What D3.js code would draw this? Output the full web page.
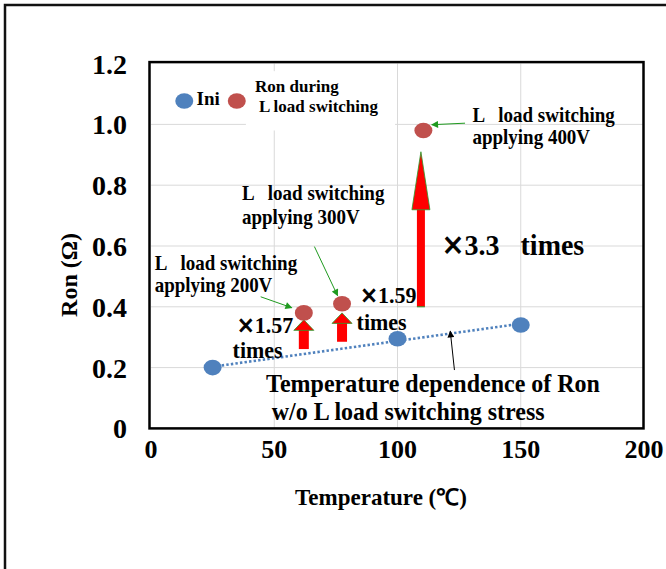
<!DOCTYPE html>
<html>
<head>
<meta charset="utf-8">
<script src="https://cdnjs.cloudflare.com/ajax/libs/d3/7.8.5/d3.min.js"></script>
<style>
  body { margin: 0; background: #fff; }
  text { font-family: "Liberation Serif", "Times New Roman", serif; font-weight: bold; fill: #000; white-space: pre; }
  .cjk { font-family: "Noto Sans CJK JP", sans-serif; font-size: 0.82em; stroke: #000; stroke-width: 0.9px; }
</style>
</head>
<body>
<script>
// data
var xTicks = [0, 50, 100, 150, 200];
var yTicks = [0, 0.2, 0.4, 0.6, 0.8, 1.0, 1.2];
var yTickLabels = ["0", "0.2", "0.4", "0.6", "0.8", "1.0", "1.2"];

var iniTemp = [25, 100, 150];
var iniRon = [0.2, 0.295, 0.34];

var swTemp = [62, 77.5, 110.5];
var swRon = [0.38, 0.41, 0.98];

// red "increase" arrows (temperature, from Ron, to Ron)
var arrowTemp = [62, 77.5, 109.5];
var arrowFrom = [0.261, 0.285, 0.40];
var arrowTo = [0.357, 0.38, 0.91];

var width = 666,
    height = 569;

var svg = d3.select("body").append("svg")
    .attr("width", width)
    .attr("height", height);

svg.append("rect")
    .attr("width", width).attr("height", height)
    .attr("fill", "#fff");

// outer frame (runs past the right/bottom edge)
svg.append("rect")
    .attr("x", 5).attr("y", 5)
    .attr("width", 700).attr("height", 600)
    .attr("fill", "none")
    .attr("stroke", "#111")
    .attr("stroke-width", 2.5);

var x = d3.scaleLinear().domain([0, 200]).range([151, 644]);
var y = d3.scaleLinear().domain([0, 1.2]).range([428.4, 63.6]);

// grid
svg.append("g").selectAll("line.v")
    .data(xTicks.slice(1, -1))
  .enter().append("line")
    .attr("x1", function(d) { return x(d); })
    .attr("x2", function(d) { return x(d); })
    .attr("y1", y(1.2)).attr("y2", y(0))
    .attr("stroke", "#d9d9d9").attr("stroke-width", 1);

svg.append("g").selectAll("line.h")
    .data(yTicks.slice(1, -1))
  .enter().append("line")
    .attr("y1", function(d) { return y(d); })
    .attr("y2", function(d) { return y(d); })
    .attr("x1", x(0)).attr("x2", x(200))
    .attr("stroke", "#d9d9d9").attr("stroke-width", 1);

// white box behind the legend text
svg.append("rect")
    .attr("x", x(38.5)).attr("y", y(1.175))
    .attr("width", x(99) - x(38.5)).attr("height", y(0.98) - y(1.175))
    .attr("fill", "#fff");

// plot frame
svg.append("rect")
    .attr("x", x(0) - 1.5).attr("y", y(1.2) - 1.5)
    .attr("width", x(200) - x(0) + 1).attr("height", y(0) - y(1.2) + 1.5)
    .attr("fill", "none")
    .attr("stroke", "#000")
    .attr("stroke-width", 2.5);

// axes labels
svg.append("g").selectAll("text")
    .data(yTicks)
  .enter().append("text")
    .attr("x", 127)
    .attr("y", function(d) { return y(d); })
    .attr("dy", "0.36em")
    .attr("text-anchor", "end")
    .style("font-size", "28px")
    .text(function(d, i) { return yTickLabels[i]; });

svg.append("g").selectAll("text")
    .data(xTicks)
  .enter().append("text")
    .attr("x", function(d) { return x(d); })
    .attr("y", 458)
    .attr("text-anchor", "middle")
    .style("font-size", "26px")
    .text(function(d) { return d; });

svg.append("text")
    .attr("x", 381).attr("y", 505)
    .attr("text-anchor", "middle")
    .style("font-size", "23px")
    .text("Temperature (\u2103)");

svg.append("text")
    .attr("transform", "translate(77,275) rotate(-90)")
    .attr("text-anchor", "middle")
    .style("font-size", "24px")
    .text("Ron (\u03a9)");

// trendline (linear fit of Ini points)
var mx = d3.mean(iniTemp), my = d3.mean(iniRon);
var sxy = d3.sum(iniTemp, function(t, i) { return (t - mx) * (iniRon[i] - my); });
var sxx = d3.sum(iniTemp, function(t) { return (t - mx) * (t - mx); });
var slope = sxy / sxx;
var ends = [d3.min(iniTemp), d3.max(iniTemp)];
svg.append("path")
    .datum(ends)
    .attr("d", d3.line()
        .x(function(d) { return x(d); })
        .y(function(d) { return y(my + slope * (d - mx)); }))
    .attr("fill", "none")
    .attr("stroke", "#4f81bd")
    .attr("stroke-width", 2.6)
    .attr("stroke-dasharray", "2.4 2.2");

// red arrows
var arrows = svg.append("g");
arrowTemp.forEach(function(t, i) {
  var cx = x(t), y0 = y(arrowFrom[i]), y1 = y(arrowTo[i]);
  var big = i === 2;
  var sw = big ? 4 : 5, hw = big ? 9 : 10, hl = big ? 58 : 10.5;
  arrows.append("rect")
      .attr("x", cx - sw).attr("y", y1 + hl - 0.5)
      .attr("width", sw * 2).attr("height", y0 - y1 - hl + 0.5)
      .attr("fill", "#ff0000");
  arrows.append("path")
      .attr("d", "M" + cx + "," + y1 + "L" + (cx + hw) + "," + (y1 + hl) +
                 "L" + (cx - hw) + "," + (y1 + hl) + "Z")
      .attr("fill", "#ff0000")
      .attr("stroke", "#2a9a2a")
      .attr("stroke-width", 0.8);
  if (big) {
    arrows.append("line")
        .attr("x1", cx - sw).attr("x2", cx + sw)
        .attr("y1", y0).attr("y2", y0)
        .attr("stroke", "#2a9a2a").attr("stroke-width", 1);
  }
});

// points
svg.append("g").selectAll("ellipse")
    .data(iniTemp)
  .enter().append("ellipse")
    .attr("cx", function(d) { return x(d); })
    .attr("cy", function(d, i) { return y(iniRon[i]); })
    .attr("rx", 9).attr("ry", 7.8)
    .attr("fill", "#4f81bd");

svg.append("g").selectAll("ellipse")
    .data(swTemp)
  .enter().append("ellipse")
    .attr("cx", function(d) { return x(d); })
    .attr("cy", function(d, i) { return y(swRon[i]); })
    .attr("rx", 9).attr("ry", 7.8)
    .attr("fill", "#c0504d");

// legend
svg.append("ellipse").attr("cx", x(13.5)).attr("cy", y(1.077))
    .attr("rx", 9).attr("ry", 7.8).attr("fill", "#4f81bd");
svg.append("text").attr("x", x(18.5)).attr("y", y(1.064))
    .style("font-size", "19px").text("Ini");
svg.append("ellipse").attr("cx", x(34.8)).attr("cy", y(1.077))
    .attr("rx", 9).attr("ry", 7.8).attr("fill", "#c0504d");
svg.append("text").attr("x", x(42.2)).attr("y", y(1.107))
    .style("font-size", "17px").text("Ron during");
svg.append("text").attr("x", x(43.8)).attr("y", y(1.042))
    .style("font-size", "17px").text("L load switching");

// annotations (text a bit taller than wide, like the original)
function label(tx, ty, lines, size, gap, stretch) {
  var px = x(tx), py = y(ty), k = stretch || 1;
  var t = svg.append("text")
      .attr("transform", "translate(" + px + "," + py + ") scale(1," + k + ")")
      .style("font-size", size + "px");
  lines.forEach(function(s, i) {
    var ts = t.append("tspan").attr("x", 0).attr("dy", i ? gap / k : 0);
    if (s.charAt(0) === "\u00d7") {
      ts.attr("class", "cjk").text("\u00d7");
      t.append("tspan").text(s.slice(1));
    } else {
      ts.text(s);
    }
  });
}
function pointer(a, b, color, id) {
  svg.append("line")
      .attr("x1", x(a[0])).attr("y1", y(a[1]))
      .attr("x2", x(b[0])).attr("y2", y(b[1]))
      .attr("stroke", color).attr("stroke-width", 1)
      .attr("marker-end", "url(#" + id + ")");
}

var defs = svg.append("defs");
[["gh", "#1f9a1f"], ["bh", "#000"]].forEach(function(m) {
  defs.append("marker")
      .attr("id", m[0])
      .attr("viewBox", "0 0 10 10")
      .attr("refX", 9).attr("refY", 5)
      .attr("markerWidth", 8).attr("markerHeight", 7)
      .attr("orient", "auto")
      .attr("markerUnits", "userSpaceOnUse")
    .append("path")
      .attr("d", "M0,0L10,5L0,10Z")
      .attr("fill", m[1]);
});

label(1.5, 0.52, ["L   load switching", "applying 200V"], 19, 22, 1.12);
pointer([44.5, 0.433], [57.1, 0.397], "#1f9a1f", "gh");

label(36.9, 0.751, ["L   load switching", "applying 300V"], 19, 24, 1.12);
pointer([66.3, 0.598], [75.7, 0.4365], "#1f9a1f", "gh");

label(130.4, 1.009, ["L   load switching", "applying 400V"], 19, 22, 1.12);
pointer([127.4, 1.004], [113.9, 0.999], "#1f9a1f", "gh");

label(34.8, 0.314, ["\u00d71.57"], 22, 0, 1.08);
label(33.1, 0.2316, ["times"], 22, 0, 1.08);
label(84.8, 0.4115, ["\u00d71.59"], 22, 0, 1.08);
label(83.4, 0.3237, ["times"], 22, 0, 1.08);
label(117.9, 0.57, ["\u00d73.3   times"], 28, 0, 1.08);

label(46.7, 0.1207, ["Temperature dependence of Ron"], 24, 0, 1.05);
label(49, 0.0276, ["w/o L load switching stress"], 24, 0, 1.05);
pointer([123.1, 0.192], [121.4, 0.320], "#000", "bh");
</script>
</body>
</html>
